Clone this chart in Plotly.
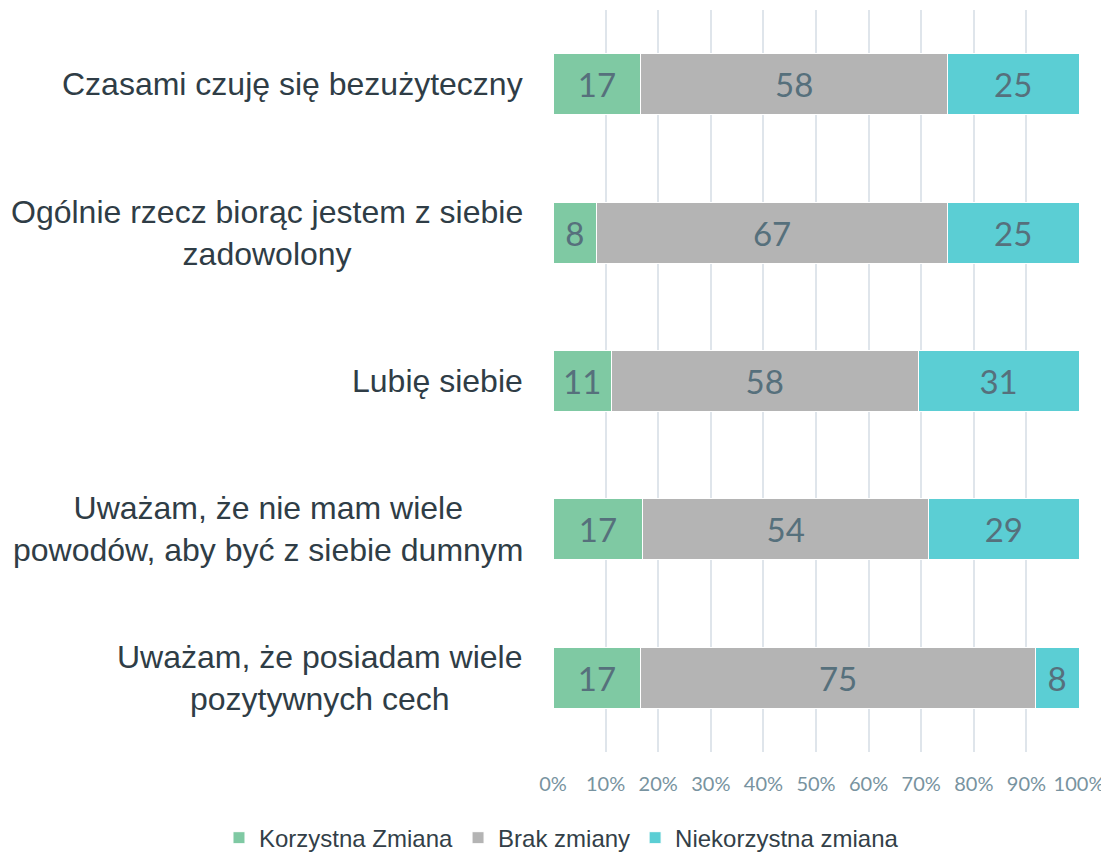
import plotly.graph_objects as go

categories = [
    "Czasami czuję się bezużyteczny",
    "Ogólnie rzecz biorąc jestem z siebie<br>zadowolony",
    "Lubię siebie",
    "Uważam, że nie mam wiele<br>powodów, aby być z siebie dumnym",
    "Uważam, że posiadam wiele<br>pozytywnych cech",
]
korzystna = [16.7, 8.3, 11.1, 17.1, 16.7]
brak = [58.3, 66.7, 58.3, 54.3, 75.0]
niekorzystna = [25.0, 25.0, 30.6, 28.6, 8.3]

series = [
    ("Korzystna Zmiana", korzystna, "#7fc9a3"),
    ("Brak zmiany", brak, "#b4b4b4"),
    ("Niekorzystna zmiana", niekorzystna, "#5bced4"),
]

fig = go.Figure()
for name, vals, color in series:
    fig.add_trace(go.Bar(
        y=categories, x=vals, name=name, orientation="h",
        marker=dict(color=color, line=dict(color="white", width=1)),
        texttemplate="%{x:.0f}", textposition="inside", insidetextanchor="middle",
        textfont=dict(family="Lato", size=33, color="#56707c"),
        constraintext="none",
    ))

for cat in categories:
    fig.add_annotation(
        x=0, xref="paper", y=cat, yref="y", xanchor="right", yanchor="middle",
        xshift=-28, text=cat, showarrow=False, align="center",
        font=dict(family="Liberation Sans, Arial", size=32, color="#2f3d46"),
    )

fig.update_layout(
    barmode="stack", bargap=0.59,
    width=1101, height=846,
    margin=dict(l=545, r=30, t=2, b=102, autoexpand=False),
    paper_bgcolor="white", plot_bgcolor="white",
    showlegend=True,
    legend=dict(orientation="h", xref="paper", yref="paper",
                x=-0.635, y=-0.116, xanchor="left", yanchor="middle",
                font=dict(family="Liberation Sans, Arial", size=24, color="#333f48"),
                itemwidth=30, traceorder="normal"),
    xaxis=dict(range=[0, 100], dtick=10, ticksuffix="%", showgrid=True,
               gridcolor="#dfe5eb", gridwidth=1.5, zeroline=False,
               tickfont=dict(family="Lato", size=20, color="#7893a0"),
               ticks="", ticklabelstandoff=18, automargin=False),
    yaxis=dict(autorange="reversed", showgrid=False, zeroline=False,
               showticklabels=False, ticks="", automargin=False),
)

fig.write_html("out.html")
